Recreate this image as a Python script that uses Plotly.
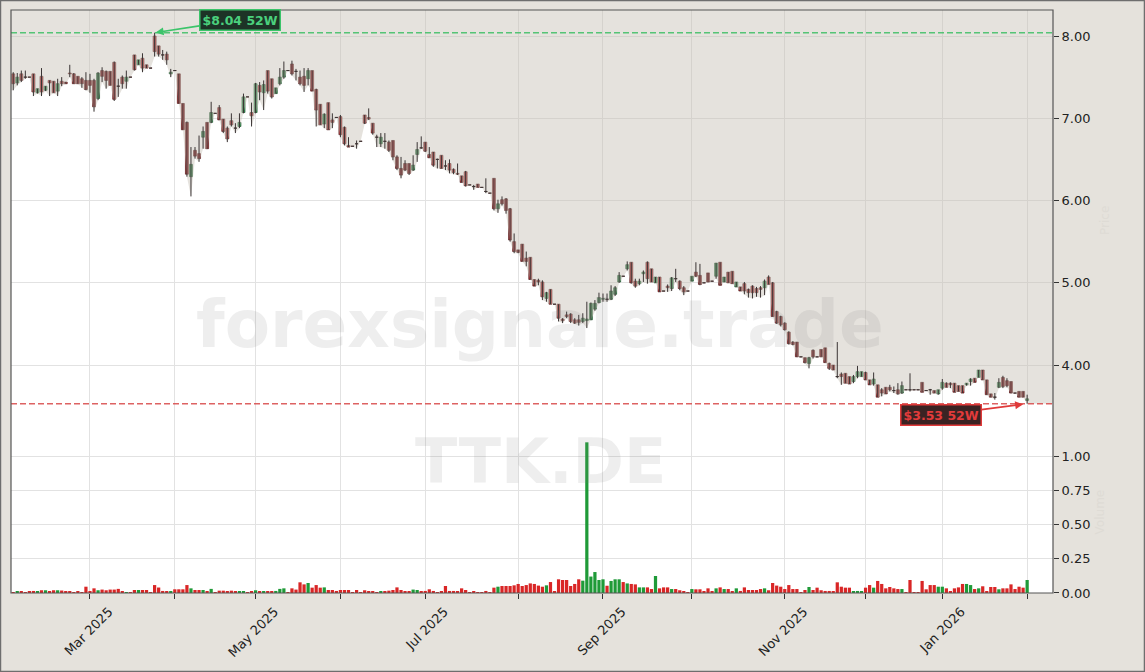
import pandas as pd
import plotly.graph_objects as go

# ---------------- data ----------------
start_date = "2025-02-04"
end_date = "2026-02-02"
exchange_holidays = ["2025-04-18", "2025-04-21", "2025-05-01", "2025-12-24",
                     "2025-12-25", "2025-12-26", "2025-12-31", "2026-01-01"]

opens = [
    7.54, 7.43, 7.54, 7.50, 7.50, 7.54, 7.31, 7.51, 7.34, 7.46,
    7.45, 7.33, 7.45, 7.44, 7.55, 7.54, 7.51, 7.48, 7.46, 7.46,
    7.46, 7.24, 7.58, 7.57, 7.57, 7.68, 7.39, 7.50, 7.45, 7.50,
    7.77, 7.65, 7.73, 7.65, 7.61, 8.00, 7.88, 7.77, 7.78, 7.54,
    7.58, 7.54, 7.18, 6.95, 6.29, 6.61, 6.57, 6.77, 6.95, 6.95,
    7.06, 7.13, 6.99, 6.88, 6.97, 6.88, 6.90, 7.07, 7.26, 7.07,
    7.07, 7.40, 7.31, 7.58, 7.48, 7.30, 7.42, 7.50, 7.58, 7.66,
    7.57, 7.50, 7.51, 7.48, 7.58, 7.35, 7.17, 6.93, 7.19, 6.98,
    7.01, 7.02, 6.89, 6.67, 6.66, 6.69, 6.72, 7.04, 7.01, 6.94,
    6.77, 6.69, 6.72, 6.71, 6.73, 6.53, 6.39, 6.45, 6.45, 6.37,
    6.56, 6.64, 6.71, 6.56, 6.59, 6.50, 6.55, 6.42, 6.45, 6.38,
    6.33, 6.30, 6.35, 6.19, 6.17, 6.20, 6.16, 6.11, 6.09, 6.27,
    5.90, 6.01, 6.02, 5.90, 5.50, 5.40, 5.47, 5.30, 5.31, 5.04,
    5.03, 5.01, 4.81, 4.92, 4.74, 4.74, 4.56, 4.61, 4.62, 4.55,
    4.55, 4.53, 4.54, 4.55, 4.68, 4.76, 4.80, 4.80, 4.80, 4.86,
    5.01, 5.08, 5.17, 5.25, 5.02, 4.99, 5.11, 5.25, 5.17, 5.00,
    5.07, 4.90, 4.96, 4.93, 5.05, 5.02, 4.94, 4.90, 5.02, 5.13,
    5.09, 5.00, 5.12, 5.02, 5.08, 5.25, 5.01, 5.13, 5.14, 4.95,
    4.95, 4.99, 4.92, 4.96, 4.93, 4.94, 4.94, 5.07, 5.00, 4.65,
    4.59, 4.51, 4.40, 4.28, 4.28, 4.10, 4.09, 4.02, 4.18, 4.10,
    4.19, 4.21, 4.02, 4.00, 3.86, 3.89, 3.90, 3.86, 3.80, 3.86,
    3.86, 3.91, 3.82, 3.77, 3.76, 3.70, 3.73, 3.73, 3.69, 3.70,
    3.66, 3.70, 3.70, 3.70, 3.70, 3.79, 3.69, 3.70, 3.69, 3.65,
    3.72, 3.78, 3.78, 3.78, 3.75, 3.75, 3.76, 3.80, 3.84, 3.85,
    3.94, 3.82, 3.65, 3.61, 3.73, 3.85, 3.81, 3.80, 3.66, 3.68,
    3.68, 3.57,
]
highs = [
    7.56, 7.55, 7.58, 7.58, 7.50, 7.54, 7.36, 7.61, 7.39, 7.46,
    7.45, 7.48, 7.50, 7.44, 7.65, 7.55, 7.51, 7.50, 7.56, 7.54,
    7.48, 7.56, 7.62, 7.58, 7.57, 7.69, 7.48, 7.52, 7.58, 7.50,
    7.77, 7.71, 7.79, 7.65, 7.61, 8.04, 7.88, 7.83, 7.81, 7.60,
    7.58, 7.54, 7.18, 6.96, 6.65, 6.65, 6.79, 6.90, 6.95, 7.20,
    7.06, 7.16, 6.99, 6.90, 7.06, 6.94, 7.06, 7.30, 7.26, 7.19,
    7.43, 7.44, 7.46, 7.58, 7.48, 7.37, 7.61, 7.69, 7.58, 7.70,
    7.60, 7.58, 7.61, 7.61, 7.58, 7.36, 7.17, 7.06, 7.19, 7.06,
    7.01, 7.04, 6.90, 6.77, 6.66, 6.73, 6.72, 7.04, 7.12, 6.94,
    6.80, 6.82, 6.82, 6.73, 6.73, 6.55, 6.53, 6.49, 6.45, 6.55,
    6.71, 6.78, 6.71, 6.65, 6.59, 6.51, 6.55, 6.49, 6.50, 6.39,
    6.45, 6.30, 6.36, 6.19, 6.19, 6.20, 6.16, 6.27, 6.09, 6.27,
    6.01, 6.05, 6.03, 5.91, 5.60, 5.40, 5.47, 5.38, 5.31, 5.04,
    5.05, 5.03, 4.89, 4.92, 4.74, 4.74, 4.57, 4.65, 4.63, 4.57,
    4.61, 4.63, 4.77, 4.76, 4.79, 4.88, 4.87, 4.87, 4.97, 4.96,
    5.13, 5.08, 5.26, 5.25, 5.05, 5.05, 5.15, 5.26, 5.17, 5.07,
    5.07, 4.90, 4.98, 5.07, 5.17, 5.03, 4.96, 4.90, 5.08, 5.25,
    5.23, 5.00, 5.12, 5.02, 5.24, 5.25, 5.07, 5.13, 5.14, 5.01,
    4.95, 5.01, 4.93, 4.97, 4.95, 4.96, 5.04, 5.09, 5.01, 4.66,
    4.60, 4.52, 4.41, 4.29, 4.28, 4.10, 4.09, 4.10, 4.19, 4.10,
    4.19, 4.21, 4.03, 4.00, 4.28, 3.91, 3.90, 3.86, 3.88, 3.99,
    3.92, 3.92, 3.82, 3.91, 3.76, 3.72, 3.73, 3.76, 3.74, 3.78,
    3.80, 3.70, 3.90, 3.70, 3.70, 3.79, 3.69, 3.71, 3.69, 3.70,
    3.83, 3.79, 3.79, 3.78, 3.75, 3.75, 3.78, 3.84, 3.84, 3.94,
    3.94, 3.82, 3.65, 3.66, 3.84, 3.87, 3.84, 3.80, 3.66, 3.68,
    3.68, 3.64,
]
lows = [
    7.34, 7.40, 7.44, 7.48, 7.50, 7.27, 7.30, 7.27, 7.33, 7.27,
    7.31, 7.27, 7.39, 7.42, 7.50, 7.42, 7.42, 7.37, 7.34, 7.31,
    7.08, 7.22, 7.44, 7.36, 7.40, 7.21, 7.26, 7.36, 7.36, 7.50,
    7.58, 7.65, 7.56, 7.61, 7.61, 7.75, 7.75, 7.71, 7.65, 7.50,
    7.58, 7.18, 6.86, 6.29, 6.05, 6.51, 6.47, 6.63, 6.63, 6.94,
    7.06, 6.98, 6.82, 6.71, 6.90, 6.82, 6.88, 7.06, 7.26, 6.90,
    7.06, 7.22, 7.10, 7.30, 7.24, 7.30, 7.40, 7.48, 7.58, 7.52,
    7.46, 7.40, 7.32, 7.40, 7.33, 6.90, 6.92, 6.88, 6.86, 6.88,
    7.01, 6.77, 6.67, 6.65, 6.66, 6.63, 6.72, 6.93, 6.98, 6.80,
    6.65, 6.65, 6.63, 6.59, 6.49, 6.37, 6.27, 6.36, 6.31, 6.36,
    6.47, 6.63, 6.59, 6.52, 6.41, 6.39, 6.39, 6.37, 6.33, 6.32,
    6.31, 6.22, 6.17, 6.19, 6.13, 6.16, 6.16, 6.09, 6.09, 5.88,
    5.85, 5.94, 5.84, 5.50, 5.36, 5.36, 5.26, 5.20, 5.04, 4.96,
    4.97, 4.79, 4.77, 4.74, 4.74, 4.53, 4.51, 4.57, 4.51, 4.50,
    4.48, 4.51, 4.45, 4.55, 4.66, 4.75, 4.77, 4.77, 4.79, 4.84,
    5.00, 5.08, 5.15, 4.99, 4.94, 4.97, 5.01, 4.99, 5.01, 5.00,
    4.89, 4.90, 4.89, 4.90, 5.01, 4.91, 4.85, 4.90, 5.02, 5.07,
    4.97, 5.00, 5.01, 5.02, 5.05, 4.97, 5.01, 5.00, 4.99, 4.95,
    4.90, 4.86, 4.82, 4.81, 4.83, 4.82, 4.85, 4.98, 4.59, 4.50,
    4.47, 4.42, 4.25, 4.24, 4.10, 4.10, 4.02, 3.96, 4.08, 4.10,
    4.10, 4.03, 3.94, 3.94, 3.84, 3.76, 3.78, 3.77, 3.78, 3.84,
    3.86, 3.82, 3.76, 3.75, 3.61, 3.62, 3.65, 3.68, 3.66, 3.64,
    3.65, 3.70, 3.68, 3.70, 3.70, 3.67, 3.69, 3.64, 3.66, 3.64,
    3.70, 3.73, 3.72, 3.67, 3.68, 3.66, 3.75, 3.75, 3.79, 3.85,
    3.82, 3.64, 3.61, 3.58, 3.72, 3.72, 3.73, 3.66, 3.66, 3.61,
    3.61, 3.53,
]
closes = [
    7.42, 7.50, 7.46, 7.50, 7.50, 7.32, 7.36, 7.32, 7.39, 7.43,
    7.31, 7.42, 7.42, 7.42, 7.54, 7.42, 7.42, 7.42, 7.35, 7.40,
    7.14, 7.55, 7.51, 7.46, 7.40, 7.23, 7.39, 7.42, 7.50, 7.50,
    7.59, 7.71, 7.61, 7.61, 7.61, 7.81, 7.78, 7.77, 7.71, 7.56,
    7.58, 7.18, 6.86, 6.32, 6.44, 6.54, 6.51, 6.84, 6.63, 7.07,
    7.06, 6.98, 6.84, 6.75, 6.92, 6.88, 6.95, 7.26, 7.26, 7.03,
    7.42, 7.32, 7.41, 7.33, 7.26, 7.37, 7.50, 7.58, 7.58, 7.54,
    7.57, 7.42, 7.40, 7.58, 7.33, 7.10, 6.92, 7.05, 6.86, 6.95,
    7.01, 6.80, 6.69, 6.65, 6.66, 6.69, 6.72, 6.94, 6.99, 6.82,
    6.77, 6.77, 6.72, 6.61, 6.53, 6.39, 6.31, 6.37, 6.33, 6.43,
    6.62, 6.64, 6.60, 6.52, 6.43, 6.50, 6.39, 6.42, 6.37, 6.34,
    6.32, 6.22, 6.18, 6.19, 6.17, 6.16, 6.16, 6.11, 6.09, 5.90,
    5.96, 5.96, 5.88, 5.52, 5.38, 5.37, 5.26, 5.26, 5.04, 4.96,
    5.01, 4.83, 4.88, 4.74, 4.74, 4.57, 4.54, 4.59, 4.53, 4.51,
    4.52, 4.57, 4.56, 4.75, 4.75, 4.82, 4.81, 4.80, 4.90, 4.94,
    5.09, 5.08, 5.22, 5.00, 4.96, 5.02, 5.13, 5.05, 5.01, 5.07,
    4.89, 4.90, 4.94, 5.06, 5.05, 4.93, 4.89, 4.90, 5.08, 5.08,
    4.98, 5.00, 5.01, 5.02, 5.24, 4.97, 5.07, 5.00, 4.99, 5.01,
    4.90, 4.90, 4.88, 4.88, 4.88, 4.92, 5.02, 4.98, 4.59, 4.51,
    4.49, 4.43, 4.26, 4.25, 4.10, 4.10, 4.03, 4.09, 4.10, 4.10,
    4.10, 4.03, 3.96, 3.94, 3.86, 3.86, 3.78, 3.77, 3.86, 3.92,
    3.92, 3.82, 3.76, 3.83, 3.61, 3.66, 3.65, 3.70, 3.69, 3.65,
    3.75, 3.70, 3.70, 3.70, 3.70, 3.67, 3.69, 3.70, 3.66, 3.70,
    3.79, 3.73, 3.76, 3.67, 3.68, 3.66, 3.78, 3.83, 3.79, 3.94,
    3.82, 3.64, 3.61, 3.61, 3.79, 3.74, 3.75, 3.66, 3.66, 3.61,
    3.61, 3.59,
]
volumes = [
    .005, .008, .012, .005, .008, .015, .012, .02, .02, .012,
    .02, .02, .018, .01, .008, .005, .008, .005, .046, .012,
    .034, .02, .025, .02, .025, .025, .03, .008, .005, .005,
    .022, .022, .022, .022, .004, .058, .04, .015, .012, .012,
    .027, .027, .027, .058, .034, .022, .022, .022, .012, .03,
    .005, .017, .017, .01, .017, .012, .012, .012, .004, .008,
    .02, .012, .01, .012, .01, .015, .03, .034, .004, .034,
    .025, .078, .063, .073, .039, .058, .039, .041, .022, .022,
    .015, .022, .022, .022, .004, .022, .004, .02, .012, .01,
    .005, .012, .012, .017, .022, .041, .022, .01, .01, .025,
    .022, .01, .015, .027, .015, .004, .01, .051, .015, .015,
    .012, .034, .022, .004, .012, .005, .004, .015, .004, .039,
    .046, .051, .051, .051, .056, .066, .051, .058, .07, .066,
    .054, .046, .056, .08, .01, .1, .095, .095, .051, .066,
    .1, .09, 1.10, .12, .153, .095, .10, .053, .088, .1,
    .1, .08, .07, .066, .063, .041, .041, .041, .029, .124,
    .034, .041, .041, .029, .029, .02, .012, .004, .029, .027,
    .027, .01, .034, .01, .034, .041, .029, .029, .012, .034,
    .015, .041, .022, .022, .022, .029, .034, .02, .073, .054,
    .046, .029, .058, .029, .029, .004, .022, .044, .022, .039,
    .02, .015, .015, .012, .078, .046, .039, .039, .01, .015,
    .012, .039, .058, .039, .088, .066, .034, .044, .034, .029,
    .029, .004, .095, .004, .004, .088, .027, .058, .058, .046,
    .046, .034, .012, .034, .041, .066, .066, .058, .029, .034,
    .049, .01, .044, .044, .027, .034, .034, .063, .029, .046,
    .039, .095,
]

price_ticks = [4, 5, 6, 7, 8]
volume_ticks = [0, 0.25, 0.5, 0.75, 1.0]
ticker = "TTK.DE"
watermark = "forexsignale.trade"

# ---------------- derived ----------------
dates = pd.bdate_range(start_date, end_date, freq="C", holidays=exchange_holidays)
n = len(opens)
assert n == len(highs) == len(lows) == len(closes) == len(volumes) == len(dates)
idx = list(range(n))

month_idx, month_lbl = [], []
for i in range(1, n):
    if dates[i].month != dates[i - 1].month:
        month_idx.append(i)
        month_lbl.append(dates[i].strftime("%b %Y") if len(month_idx) % 2 == 1 else "")

x_lo, x_hi = -0.55, n + 5.4
p_lo, p_hi = 3.247, 8.316
v_hi = 1.2117
split = 0.2847
body_w = 0.74

hi_val = max(highs)
hi_i = highs.index(hi_val)
lo_val = min(lows)
lo_i = lows.index(lo_val)

BG = "#e5e2dc"
UP_FILL, DN_FILL = "#2f9e52", "#c0262c"
UP_EDGE, DN_EDGE = "#1d4a2a", "#4a1a1a"
WICK = "#3a3434"
VOL_UP, VOL_DN = "#1f9a38", "#d92626"

up = [c > o for o, c in zip(opens, closes)]

fig = go.Figure()

# beige region above the lows
fill_x = [x_lo] + idx + [x_hi, x_hi, x_lo]
fill_y = [lows[0]] + lows + [lows[-1], p_hi, p_hi]
fig.add_trace(go.Scatter(x=fill_x, y=fill_y, fill="toself", mode="lines",
                         fillcolor="rgba(197,191,179,0.45)", line=dict(width=0),
                         hoverinfo="skip", showlegend=False, xaxis="x", yaxis="y"))

# wicks
wx, wy = [], []
for i in idx:
    wx += [i, i, None]
    wy += [lows[i], highs[i], None]
fig.add_trace(go.Scatter(x=wx, y=wy, mode="lines", line=dict(color=WICK, width=1),
                         hoverinfo="skip", showlegend=False, xaxis="x", yaxis="y"))

# doji dashes
dx, dy = [], []
for i in idx:
    if opens[i] == closes[i]:
        dx += [i - body_w / 2, i + body_w / 2, None]
        dy += [opens[i], opens[i], None]
fig.add_trace(go.Scatter(x=dx, y=dy, mode="lines", line=dict(color=WICK, width=1),
                         hoverinfo="skip", showlegend=False, xaxis="x", yaxis="y"))

# bodies
body_base = [min(o, c) for o, c in zip(opens, closes)]
body_len = [abs(c - o) for o, c in zip(opens, closes)]
fig.add_trace(go.Bar(x=idx, y=body_len, base=body_base, width=body_w,
                     marker=dict(color=[UP_FILL if u else DN_FILL for u in up],
                                 line=dict(color=[UP_EDGE if u else DN_EDGE for u in up], width=0.7)),
                     showlegend=False, xaxis="x", yaxis="y"))

# volume
fig.add_trace(go.Bar(x=idx, y=volumes, width=0.8,
                     marker=dict(color=[VOL_UP if u else VOL_DN for u in up], line=dict(width=0)),
                     showlegend=False, xaxis="x2", yaxis="y2"))

grid = "#e2e2e2"
tickfont = dict(family="DejaVu Sans", size=13, color="#222222")

fig.update_layout(
    width=1145, height=672,
    margin=dict(l=11, r=92, t=10, b=79),
    paper_bgcolor=BG, plot_bgcolor="#ffffff",
    font=dict(family="DejaVu Sans", size=13, color="#222222"),
    showlegend=False, barmode="overlay",
    xaxis=dict(domain=[0, 1], range=[x_lo, x_hi], anchor="y",
               tickvals=month_idx, showticklabels=False, ticks="",
               showgrid=True, gridcolor=grid, gridwidth=1, zeroline=False,
               showline=False, automargin=False),
    xaxis2=dict(domain=[0, 1], range=[x_lo, x_hi], anchor="y2", matches="x",
                tickvals=month_idx, ticktext=month_lbl, tickangle=-45,
                ticklabelshift=19,
                ticks="outside", ticklen=5, tickcolor="#333333", tickwidth=1,
                tickfont=tickfont, showgrid=True, gridcolor=grid, zeroline=False,
                showline=False, automargin=False),
    yaxis=dict(domain=[split, 1], range=[p_lo, p_hi], anchor="x", side="right",
               tickvals=price_ticks, tickformat=".2f", ticks="outside", ticklen=5,
               tickcolor="#333333", tickfont=tickfont, showgrid=True, gridcolor=grid,
               zeroline=False, showline=False, automargin=False),
    yaxis2=dict(domain=[0, split], range=[0, v_hi], anchor="x2", side="right",
                tickvals=volume_ticks, tickformat=".2f", ticks="outside", ticklen=5,
                tickcolor="#333333", tickfont=tickfont, showgrid=True, gridcolor=grid,
                zeroline=False, showline=False, automargin=False),
)

shapes = [
    dict(type="line", xref="paper", x0=0, x1=1, yref="y", y0=hi_val, y1=hi_val,
         line=dict(color="rgba(60,190,100,0.85)", width=1.6, dash="6px,3px"), layer="above"),
    dict(type="line", xref="paper", x0=0, x1=1, yref="y", y0=lo_val, y1=lo_val,
         line=dict(color="rgba(215,70,70,0.85)", width=1.6, dash="6px,3px"), layer="above"),
    dict(type="rect", xref="paper", yref="paper", x0=0, x1=1, y0=0, y1=1,
         line=dict(color="#555555", width=1.2), fillcolor="rgba(0,0,0,0)", layer="above"),
    dict(type="rect", xref="paper", yref="paper", x0=-0.0101, x1=1.0878, y0=-0.1347, y1=1.0163,
         line=dict(color="#6e6e6e", width=1.5), fillcolor="rgba(0,0,0,0)", layer="above"),
]
fig.update_layout(shapes=shapes)

annotations = [
    dict(text=watermark, xref="paper", yref="paper", x=0.5077, y=0.4597,
         xanchor="center", yanchor="middle", showarrow=False,
         font=dict(family="DejaVu Sans", size=66, color="rgba(120,120,120,0.13)", weight="bold")),
    dict(text=ticker, xref="paper", yref="paper", x=0.5077, y=0.2264,
         xanchor="center", yanchor="middle", showarrow=False,
         font=dict(family="DejaVu Sans", size=62, color="rgba(120,120,120,0.13)", weight="bold")),
    dict(text=f"${hi_val:.2f} 52W", x=hi_i, y=hi_val, xref="x", yref="y",
         ax=85, ay=-13, axref="pixel", ayref="pixel", showarrow=True,
         arrowhead=2, arrowsize=1, arrowwidth=1.6, arrowcolor="#3cc46a", standoff=1,
         font=dict(family="DejaVu Sans", size=12.5, color="#4bd07d", weight="bold"),
         bgcolor="#1d3326", bordercolor="#3cc46a", borderwidth=1.5, borderpad=2),
    dict(text=f"${lo_val:.2f} 52W", x=lo_i, y=lo_val, xref="x", yref="y",
         ax=-86, ay=11, axref="pixel", ayref="pixel", showarrow=True,
         arrowhead=2, arrowsize=1, arrowwidth=1.6, arrowcolor="#e03a3a", standoff=4,
         font=dict(family="DejaVu Sans", size=12.5, color="#e33b3b", weight="bold"),
         bgcolor="#3a2323", bordercolor="#e03a3a", borderwidth=1.5, borderpad=2),
    dict(text="Price", xref="paper", yref="paper", x=1.0499, y=0.6398, showarrow=False,
         xanchor="center", yanchor="middle", textangle=-90,
         font=dict(family="DejaVu Sans", size=12, color="#dedbd5")),
    dict(text="Volume", xref="paper", yref="paper", x=1.0455, y=0.1389, showarrow=False,
         xanchor="center", yanchor="middle", textangle=-90,
         font=dict(family="DejaVu Sans", size=12, color="#dedbd5")),
]
fig.update_layout(annotations=annotations)

fig.write_html(
    "out.html",
    config={"displayModeBar": False},
    post_script="document.body.style.margin='0';document.body.style.background='" + BG + "';",
)
